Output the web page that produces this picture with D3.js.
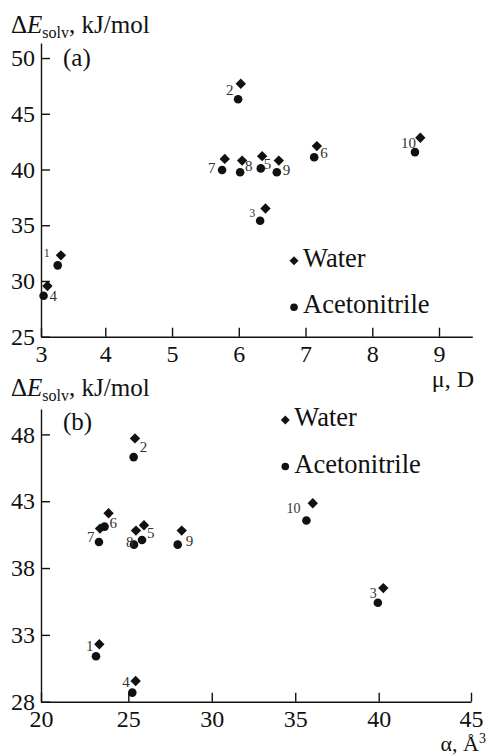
<!DOCTYPE html>
<html>
<head>
<meta charset="utf-8">
<script src="https://cdn.jsdelivr.net/npm/d3@7"></script>
<style>
body { margin: 0; background: #fff; }
svg text { font-family: "Liberation Serif", "Times New Roman", serif; fill: #111; }
.axis path, .axis line { stroke: #111; stroke-width: 1.4; }
</style>
</head>
<body>
<svg id="chart" width="487" height="756"></svg>
<script>
// compounds 1..10, solvation energies (kJ/mol) in water and acetonitrile
var compounds = ["1", "2", "3", "4", "5", "6", "7", "8", "9", "10"];
var eWater = [32.3, 47.7, 36.5, 29.55, 41.2, 42.1, 40.95, 40.8, 40.8, 42.85];
var eAcetonitrile = [31.4, 46.3, 35.4, 28.68, 40.1, 41.1, 39.95, 39.75, 39.75, 41.56];
// dipole moment, D
var muWater = [3.31, 6.03, 6.40, 3.10, 6.35, 7.17, 5.79, 6.05, 6.60, 8.72];
var muAcetonitrile = [3.26, 5.99, 6.32, 3.04, 6.33, 7.13, 5.75, 6.02, 6.57, 8.64];
// polarizability, A^3
var alphaWater = [23.34, 25.40, 40.25, 25.44, 25.94, 23.87, 23.38, 25.46, 28.20, 36.05];
var alphaAcetonitrile = [23.15, 25.32, 39.95, 25.24, 25.82, 23.64, 23.32, 25.34, 27.96, 35.67];

var muTicks = [3, 4, 5, 6, 7, 8, 9];
var alphaTicks = [20, 25, 30, 35, 40, 45];
var eTicksA = [25, 30, 35, 40, 45, 50];
var eTicksB = [28, 33, 38, 43, 48];
var seriesNames = ["Water", "Acetonitrile"];

// label placement relative to the acetonitrile point: [dx, dy, font size]
var labelPosA = {
    "1": [-14, -8, 12], "2": [-12, -4, 15], "3": [-11, -4, 12], "4": [6, 5, 15],
    "5": [3, 1, 15], "6": [6, 1, 15], "7": [-14, 3, 15], "8": [5, -1, 15],
    "9": [6, 3, 15], "10": [-14, -4, 15]
};
var labelPosB = {
    "1": [-10, -5, 15], "2": [6, -5, 15], "3": [-8, -5, 14], "4": [-10, -6, 15],
    "5": [5, -2, 15], "6": [5, 1, 15], "7": [-12, 0, 15], "8": [-8, 2, 15],
    "9": [8, 1, 15], "10": [-20, -7, 14]
};

var serif = "Liberation Serif, Times New Roman, serif";
var svg = d3.select("#chart");

function drawPanel(opt) {
    var g = svg.append("g");
    var x = opt.x, y = opt.y;

    var xAxis = d3.axisBottom(x).tickValues(opt.xTicks)
        .tickSizeInner(-9).tickSizeOuter(0).tickPadding(8)
        .tickFormat(d3.format("d"));
    var yAxis = d3.axisLeft(y).tickValues(opt.yTicks)
        .tickSizeInner(-9).tickSizeOuter(0).tickPadding(6)
        .tickFormat(d3.format("d"));

    g.append("g").attr("class", "axis")
        .attr("transform", "translate(0," + y.range()[0] + ")")
        .call(xAxis)
        .attr("font-family", serif).attr("font-size", 24);
    g.append("g").attr("class", "axis")
        .attr("transform", "translate(" + x.range()[0] + ",0)")
        .call(yAxis)
        .attr("font-family", serif).attr("font-size", 24);
    g.selectAll(".axis text").attr("fill", "#111");

    // y title
    var t = g.append("text").attr("x", 11).attr("y", opt.titleY).style("font-size", "25px");
    t.append("tspan").text("\u0394");
    t.append("tspan").style("font-style", "italic").text("E");
    t.append("tspan").attr("dy", 5).style("font-size", "16px").text("solv");
    t.append("tspan").attr("dy", -5).text(", kJ/mol");

    g.append("text").attr("x", 63).attr("y", opt.titleY + opt.panelDy)
        .style("font-size", "25px").text(opt.panel);

    // x title
    var xt = g.append("text").attr("x", opt.xTitlePos[0]).attr("y", opt.xTitlePos[1])
        .attr("text-anchor", "end").style("font-size", opt.xTitleSize + "px");
    xt.append("tspan").text(opt.xTitle);
    if (opt.xSup) {
        xt.append("tspan").attr("dy", -8).style("font-size", "14px").text(opt.xSup);
    }

    var pts = compounds.map(function(c, i) {
        return {id: c, xw: opt.xw[i], xa: opt.xa[i], ew: eWater[i], ea: eAcetonitrile[i]};
    });

    var diamond = d3.symbol().type(d3.symbolSquare).size(54);
    g.selectAll(".water").data(pts).enter().append("path")
        .attr("class", "water")
        .attr("d", diamond)
        .attr("fill", "#111")
        .attr("transform", function(d) {
            return "translate(" + x(d.xw) + "," + y(d.ew) + ") rotate(45)";
        });
    g.selectAll(".acn").data(pts).enter().append("circle")
        .attr("class", "acn")
        .attr("cx", function(d) { return x(d.xa); })
        .attr("cy", function(d) { return y(d.ea); })
        .attr("r", 4.3)
        .attr("fill", "#111");

    g.selectAll(".num").data(pts).enter().append("text")
        .attr("class", "num")
        .attr("x", function(d) { return x(d.xa) + opt.labels[d.id][0]; })
        .attr("y", function(d) { return y(d.ea) + opt.labels[d.id][1]; })
        .style("font-size", function(d) { return opt.labels[d.id][2] + "px"; })
        .style("fill", "#333")
        .text(function(d) { return d.id; });

    // legend
    var lg = g.append("g").attr("transform", "translate(" + opt.legend[0] + "," + opt.legend[1] + ")");
    lg.append("path").attr("d", d3.symbol().type(d3.symbolSquare).size(40))
        .attr("transform", "rotate(45)").attr("fill", "#111");
    lg.append("circle").attr("cx", 0).attr("cy", 46.5).attr("r", 3.8).attr("fill", "#111");
    lg.selectAll(".lt").data(seriesNames).enter().append("text")
        .attr("x", 9).attr("y", function(d, i) { return 6 + i * 46.5; })
        .style("font-size", "26.5px")
        .text(function(d) { return d; });
}

drawPanel({
    panel: "(a)",
    x: d3.scaleLinear().domain([3, 4, 9, 9.5]).range([41, 105.3, 439, 472.3]),
    y: d3.scaleLinear().domain([25, 51.35]).range([336.7, 43]),
    xTicks: muTicks, yTicks: eTicksA,
    xw: muWater, xa: muAcetonitrile,
    labels: labelPosA,
    titleY: 33, panelDy: 33,
    xTitle: "\u03bc, D", xTitlePos: [474, 387], xTitleSize: 24,
    legend: [294, 260.7]
});

drawPanel({
    panel: "(b)",
    x: d3.scaleLinear().domain([20, 25, 40, 45]).range([41, 128.3, 378.7, 471]),
    y: d3.scaleLinear().domain([28, 49.9]).range([701.7, 409]),
    xTicks: alphaTicks, yTicks: eTicksB,
    xw: alphaWater, xa: alphaAcetonitrile,
    labels: labelPosB,
    titleY: 396, panelDy: 34,
    xTitle: "\u03b1, \u00c5", xSup: "3", xTitlePos: [486, 751], xTitleSize: 22,
    legend: [285.3, 420]
});
</script>
</body>
</html>
